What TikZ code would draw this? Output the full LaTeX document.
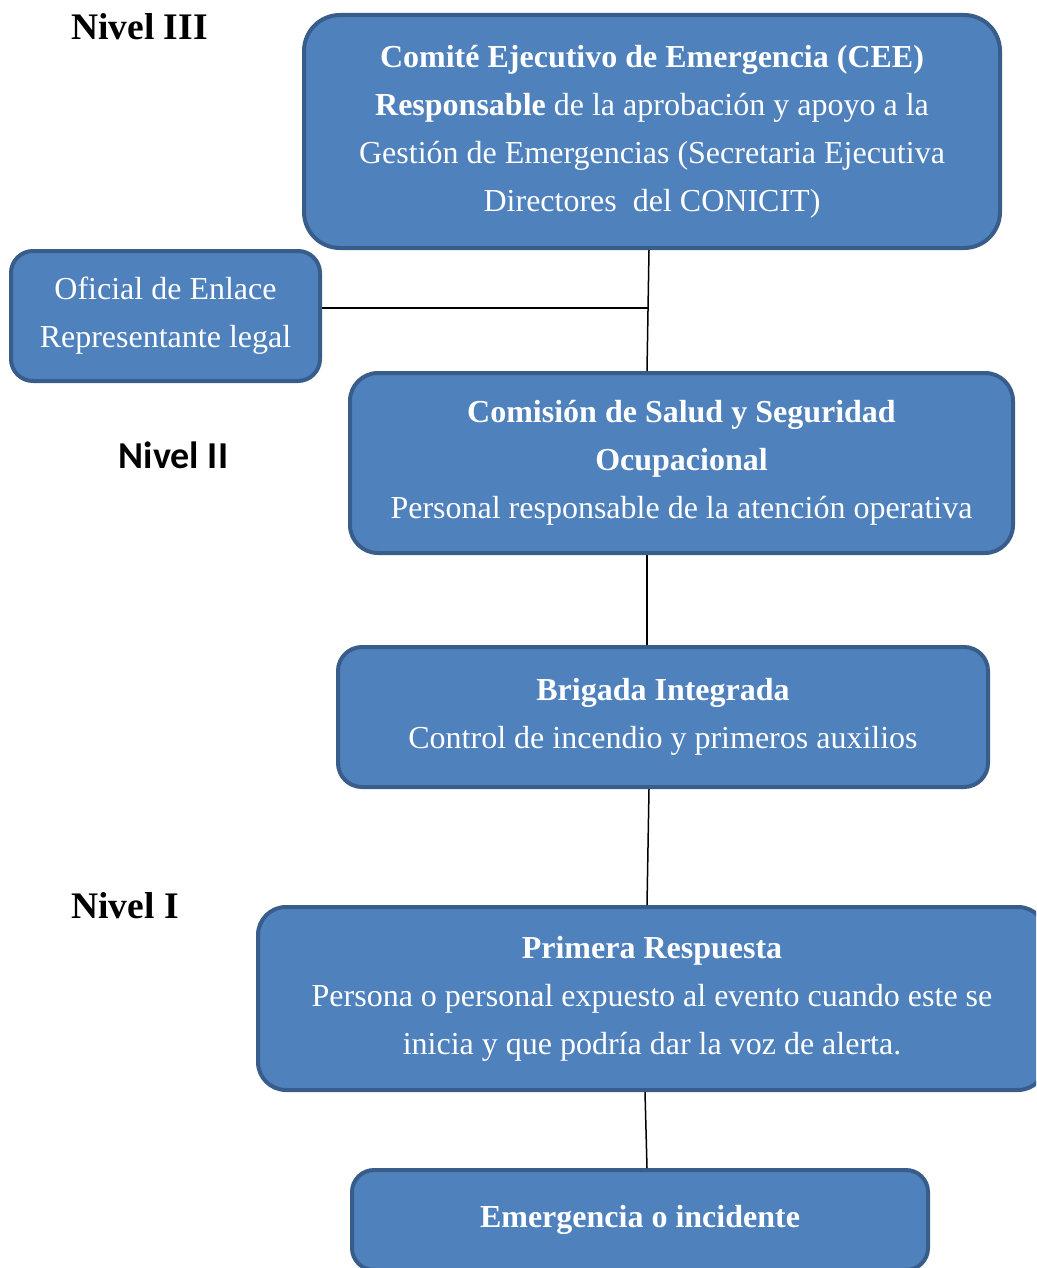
\documentclass[tikz,border=0pt]{standalone}
\usepackage{fontspec}
\setmainfont{Liberation Serif}
\newfontfamily\calib{Carlito}
\definecolor{boxfill}{HTML}{4F81BD}
\definecolor{boxline}{HTML}{385D8A}
\begin{document}
\begin{tikzpicture}[x=1pt,y=-1pt,
  box/.style={draw=boxline, fill=boxfill, line width=4pt, text=white, align=center,
    inner sep=0pt, font=\fontsize{32}{48}\selectfont},
  lvl/.style={font=\fontsize{37.5}{40}\selectfont\bfseries, inner sep=0pt},
  conn/.style={line width=1.5pt, black}]
\useasboundingbox (0,0) rectangle (1036,1268);
\begin{scope}
\clip (0,0) rectangle (1036,1268);
\node[box, rounded corners=36pt, minimum width=696pt, minimum height=233pt] (cee) at (652,131.5)
  {\textbf{Comité Ejecutivo de Emergencia (CEE)}\\\textbf{Responsable} de la aprobación y apoyo a la\\Gestión de Emergencias (Secretaria Ejecutiva\\Directores\ \ del CONICIT)};
\node[box, rounded corners=22pt, minimum width=309pt, minimum height=130pt] (ofi) at (165.5,316)
  {Oficial de Enlace\\Representante legal};
\node[box, rounded corners=28pt, minimum width=663pt, minimum height=180pt] (com) at (681.5,463)
  {\textbf{Comisión de Salud y Seguridad}\\\textbf{Ocupacional}\\Personal responsable de la atención operativa};
\node[box, rounded corners=24pt, minimum width=650pt, minimum height=140pt] (brig) at (663,717)
  {\textbf{Brigada Integrada}\\Control de incendio y primeros auxilios};
\node[box, rounded corners=28pt, minimum width=788pt, minimum height=183pt] (prim) at (652,998.5)
  {\textbf{Primera Respuesta}\\Persona o personal expuesto al evento cuando este se\\inicia y que podría dar la voz de alerta.};
\node[box, rounded corners=22pt, minimum width=576pt, minimum height=100pt] (emer) at (640,1220)
  {\textbf{Emergencia o incidente}};
\end{scope}
\node[lvl] (n3) at (139.5,27) {Nivel III};
\node[lvl, font=\calib\fontsize{38}{40}\selectfont\bfseries] (n2) at (173.5,455) {Nivel II};
\node[lvl] (n1) at (125,906) {Nivel I};
\coordinate (j) at (648.5,308);
\draw[conn] ([xshift=-3pt]cee.south) -- ([xshift=-34.5pt]com.north);
\draw[conn] (ofi.east |- j) -- (j);
\draw[conn] ([xshift=-34.5pt]com.south) -- ([xshift=-16pt]brig.north);
\draw[conn] ([xshift=-14pt]brig.south) -- ([xshift=-5pt]prim.north);
\draw[conn] ([xshift=-7pt]prim.south) -- ([xshift=7pt]emer.north);
\end{tikzpicture}
\end{document}
